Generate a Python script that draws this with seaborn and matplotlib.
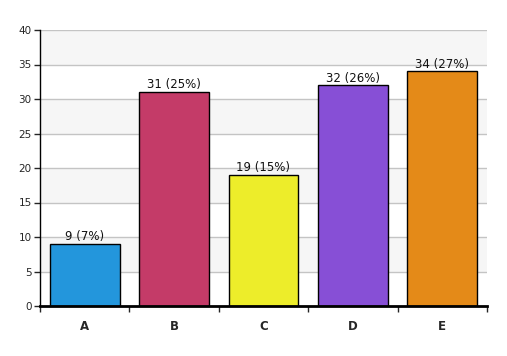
import matplotlib
matplotlib.use("Agg")
import matplotlib.pyplot as plt
import seaborn as sns
import pandas as pd

# data
categories = ["A", "B", "C", "D", "E"]
counts = [9, 31, 19, 32, 34]
percents = [7, 25, 15, 26, 27]
colors = ["#2396dc", "#c43b68", "#eded2a", "#874fd6", "#e48a18"]

sns.set_style("white")
plt.rcParams['font.family'] = ['DejaVu Sans']

df = pd.DataFrame({"cat": categories, "n": counts})

fig = plt.figure(figsize=(5.07, 3.56), dpi=100)
ax = fig.add_axes([40 / 507, 1 - 306 / 356, 447 / 507, 276 / 356])

# alternating background bands
for lo in range(5, 40, 10):
    ax.axhspan(lo, lo + 5, color="#f6f6f6", zorder=0, lw=0)
for y in range(5, 45, 5):
    ax.axhline(y, color="#c4c4c4", lw=1, zorder=1)

sns.barplot(data=df, x="cat", y="n", hue="cat", palette=colors, legend=False,
            edgecolor="black", linewidth=1, width=0.78, saturation=1, ax=ax, zorder=2)

for i, (c, p) in enumerate(zip(counts, percents)):
    ax.text(i, c + 0.1, f"{c} ({p}%)", ha="center", va="bottom", fontsize=8.5, color="#111111")

ax.set_xlim(-0.5, 4.5)
ax.set_ylim(0, 40)
ax.set_yticks(range(0, 45, 5))
ax.tick_params(axis="y", length=4, width=1, labelsize=7.5, direction="out", left=True, pad=2)
ax.set_xticks(range(len(categories)))
ax.set_xticklabels(categories, fontweight="bold", fontsize=8.5)
ax.tick_params(axis="x", which="major", length=0, pad=10)
ax.set_xticks([i - 0.5 for i in range(len(categories) + 1)], minor=True)
ax.tick_params(axis="x", which="minor", length=4, width=1, direction="out", bottom=True)
ax.set_xlabel("")
ax.set_ylabel("")

for s in ["top", "right"]:
    ax.spines[s].set_visible(False)
ax.spines["left"].set_color("black")
ax.spines["left"].set_linewidth(1)
ax.spines["bottom"].set_color("black")
ax.spines["bottom"].set_linewidth(2)
ax.spines["bottom"].set_zorder(5)

fig.savefig("out.png", dpi=100)
